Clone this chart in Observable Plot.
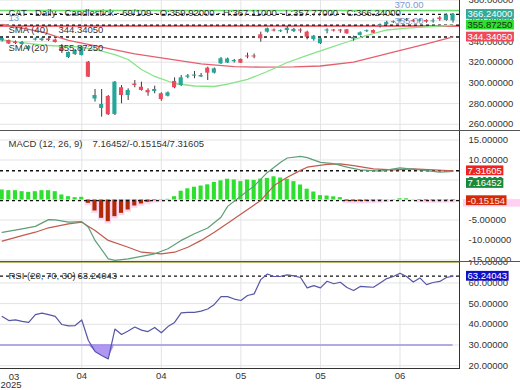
<!DOCTYPE html>
<html><head><meta charset="utf-8">
<script src="https://cdn.jsdelivr.net/npm/d3@7"></script>
<script src="https://cdn.jsdelivr.net/npm/@observablehq/plot@0.6"></script>
<style>
html,body{margin:0;padding:0;background:#fff;}
#chart{position:relative;width:520px;height:390px;overflow:hidden;background:#fff;}
.panel{position:absolute;left:0;width:520px;overflow:hidden;}
.panel svg{display:block;}
</style></head><body>
<div id="chart"></div>
<script>
// ---------- data ----------
const symbol = "CAT", period = "Daily", chartType = "Candlestick", totalBars = 109;
const opens  = [340.5,341.0,339.5,337.1,332.7,341.4,341.0,342.4,341.4,334.2,324.5,327.4,326.5,320.0,284.4,275.3,286.9,269.5,295.3,287.8,298.9,295.8,292.7,291.7,289.5,287.1,301.4,297.5,305.5,306.5,305.7,314.2,309.4,318.4,319.2,320.4,322.6,326.0,326.0,346.5,349.0,351.1,349.5,350.6,349.6,351.1,349.0,341.9,337.8,350.1,351.1,351.1,351.3,342.4,345.8,349.5,350.6,354.5,356.4,358.2,359.8,360.3,360.1,359.8,360.3,359.0,362.7,360.3,359.92];
const highs  = [343.9,341.4,340.5,340.0,336.1,343.4,343.4,343.4,342.4,337.1,329.8,332.3,335.2,320.7,293.6,293.6,287.8,301.4,297.5,294.3,302.3,300.7,294.3,296.8,290.4,291.2,304.9,307.1,308.1,311.0,309.1,315.2,314.4,324.5,324.0,322.6,323.1,328.7,327.9,349.0,353.0,352.1,351.1,354.5,352.6,352.3,350.0,345.8,343.4,352.3,351.6,351.6,351.6,345.1,349.2,351.1,351.1,356.9,359.6,359.8,361.7,362.2,361.3,361.7,361.0,361.9,364.1,366.6,367.11];
const lows   = [339.5,337.1,337.1,336.1,331.3,340.5,340.0,340.0,338.5,328.4,323.6,326.5,326.0,305.2,281.4,266.9,268.5,268.5,279.8,283.0,295.3,292.0,287.1,289.5,282.3,286.4,294.3,296.5,304.0,304.0,305.2,302.3,308.6,317.8,318.7,319.2,318.7,323.3,323.3,339.3,348.2,349.2,348.7,347.4,348.7,348.0,341.6,340.3,337.1,347.4,349.2,348.0,347.0,340.3,345.3,348.7,347.7,353.0,355.4,357.4,358.8,359.3,358.4,358.8,357.7,357.7,359.6,359.6,357.77];
const closes = [342.9,337.6,338.1,339.0,335.2,342.4,342.4,341.0,339.0,330.3,329.4,331.3,334.5,305.5,287.8,279.1,269.2,300.7,287.8,292.7,297.5,292.7,290.4,293.6,283.9,290.4,295.3,304.9,306.7,307.6,307.1,309.4,313.6,323.3,323.1,321.6,319.0,325.0,325.0,342.6,352.3,350.1,350.4,352.8,351.6,350.1,344.1,345.1,342.6,351.1,350.1,350.1,347.4,343.9,348.4,350.4,348.0,355.9,358.4,359.1,360.8,361.3,359.1,360.8,358.8,359.8,361.3,365.6,366.24];

const sma20Idx = [0,3,7,12,15,17,19,21,23,26,29,32,34,37,40,43,46,49,52,55,58,61,65,68];
const sma20Val = [341.6,339.0,336.1,334.5,330.8,327.4,322.6,312.9,306.2,299.4,297.0,296.5,298.9,303.3,311.0,319.7,326.5,333.2,339.5,345.8,351.1,353.0,354.5,355.8725];
const sma40Idx = [0,3,6,10,15,20,25,30,35,39,44,48,53,59,64,68];
const sma40Val = [356.4,353.0,349.2,341.0,334.5,328.1,323.3,318.4,315.8,315.2,315.4,316.3,320.0,329.7,337.8,344.3405];

const priceLines = [{v:370, color:"#66dd66"}, {v:355, color:"#e8384a"}];

const macdHist = [2.5,2.33,2.33,2.08,1.92,2.08,2.33,2.33,2.08,1.25,0.83,0.58,0.67,-0.83,-2.75,-4.58,-5.42,-4.17,-3.33,-2.5,-1.5,-1.0,-0.58,-0.17,-0.05,0.17,0.83,2.2,2.8,3.2,3.5,3.8,4.4,4.8,5.2,5.0,4.6,5.0,4.9,5.2,5.4,5.8,5.5,5.2,4.6,3.75,2.7,2.0,1.1,1.0,0.8,0.6,-0.3,-0.4,-0.4,-0.35,-0.3,-0.2,-0.05,0.1,0.3,0.3,0.05,-0.1,-0.2,-0.25,-0.2,-0.2,-0.15154];
const macdIdx = [0,3,5,7,8,10,12,13,14,16,17,19,21,23,25,27,29,31,33,34,36,38,39,40,42,43,45,46,48,50,52,54,57,60,63,66,68];
const macdVal = [-8.1,-7.2,-6.6,-4.9,-4.95,-5.55,-5.4,-6.8,-10.1,-14.7,-15.1,-14.7,-14.1,-13.45,-12.2,-10.1,-8.45,-7.0,-4.3,-1.6,1.0,3.5,5.2,6.9,9.45,10.5,10.9,10.6,9.4,9.1,8.2,7.55,7.2,8.05,7.55,6.95,7.16452];
const sigIdx = [0,3,5,7,10,12,14,16,19,21,24,26,28,30,32,34,39,41,43,45,46,49,51,53,56,59,62,65,68];
const sigVal = [-10.3,-8.9,-8.05,-6.95,-5.95,-5.55,-7.6,-10.1,-11.8,-13.05,-13.45,-13.05,-11.8,-10.1,-8.05,-5.8,-0.1,3.6,5.7,7.4,8.2,8.9,9.05,8.6,7.8,7.55,7.8,7.55,7.31605];

const rsiVal = [43.8,41.8,42.1,41.4,40.9,44.7,45.4,44.7,43.8,39.9,39.2,39.4,42.1,32.2,26.9,24.9,23.3,37.7,35.1,36.8,38.7,37.2,36.5,38.5,35.9,38.9,40.9,45.5,45.8,45.8,46.4,47.4,49.6,53.4,53.4,52.2,51.5,53.9,54.7,61.6,64.3,63.1,63.2,63.9,63.4,62.6,57.6,58.7,57.6,60.8,59.6,60.3,57.8,56.3,58.3,58.1,57.9,60.0,62.1,63.1,64.7,63.1,60.4,62.4,59.2,60.2,60.7,62.6,63.24043];
const rsiLevels = [30, 70];

const priceTicks = [260,280,300,320,340,360,380];
const macdTicks  = [-15,-10,-5,0,5,10,15,20];
const rsiTicks   = [20,30,40,50,60,70];
const monthIdx = [12,24,36,48,60];
const monthLbl = ["04","04","05","05","06"];
const firstMonth = {idx:0, label:"03", year:"2025"};

// ---------- styling ----------
const FONT = '"Liberation Sans", Arial, Helvetica, sans-serif';
const FS = 9.5;
const TEAL = "#26a69a", RED = "#ea4a5c";
const GRID = "#e3e3e6";
const X_DOMAIN = [-1.7/6.63, (459-1.7)/6.63];
const last = a => a[a.length-1];

const chart = document.getElementById("chart");
function mount(plot, top, height){
  const d = document.createElement("div");
  d.className = "panel"; d.style.top = top+"px"; d.style.height = height+"px";
  d.appendChild(plot); chart.appendChild(d);
  return plot;
}
function base(height, yDomain, marks, mb=0){
  return Plot.plot({
    width:520, height, marginLeft:0, marginRight:61, marginTop:0, marginBottom:mb,
    x:{domain:X_DOMAIN, axis:null},
    y:{domain:yDomain, axis:null},
    style:{fontFamily:FONT, fontSize:FS+"px", color:"#333", background:"transparent"},
    marks
  });
}
function addBoxes(svg, y, boxes){
  const s = d3.select(svg);
  for (const b of boxes){
    const cy = y.apply(b.v) + (b.shift||0);
    const g = s.append("g");
    const t = g.append("text").attr("x",467.5).attr("y",cy).attr("dy","0.36em")
      .attr("text-anchor","start").attr("fill",b.fg).style("font",`${FS}px ${FONT}`).text(b.text);
    const w = t.node().getComputedTextLength();
    if (b.glow) g.insert("rect","text").attr("x",463).attr("y",cy-1).attr("width",57).attr("height",7.5).attr("fill",b.glow);
    g.insert("rect","text").attr("x",466).attr("y",cy-4.8).attr("width",w+3).attr("height",9.8).attr("fill",b.bg);
  }
}
function frameLines(svg, h, sep, bottom){
  const s = d3.select(svg);
  s.append("line").attr("x1",459.5).attr("x2",459.5).attr("y1",0).attr("y2",h).attr("stroke","#333");
  if (sep) s.append("line").attr("x1",0).attr("x2",520).attr("y1",0.5).attr("y2",0.5).attr("stroke","#555");
  if (bottom) s.append("line").attr("x1",0).attr("x2",460).attr("y1",h+0.5).attr("y2",h+0.5).attr("stroke","#333");
}
const dashed = v => Plot.ruleY([v], {stroke:"#111", strokeWidth:1.3, strokeDasharray:"3,3"});

// ---------- panel 1: price ----------
const candles = opens.map((o,i)=>({i, o, h:highs[i], l:lows[i], c:closes[i]}));
const up = candles.filter(d=>d.c>=d.o), down = candles.filter(d=>d.c<d.o);
const s20 = sma20Idx.map((x,k)=>({x, y:sma20Val[k]}));
const s40 = sma40Idx.map((x,k)=>({x, y:sma40Val[k]}));
const lc = last(candles);
const title = `${symbol} - ${period} - ${chartType} - ${candles.length}/${totalBars} - O:${lc.o.toFixed(5)} - H:${lc.h.toFixed(5)} - L:${lc.l.toFixed(5)} - C:${lc.c.toFixed(5)}`;

const p1 = mount(base(130, [254.0, 379.6], [
  Plot.gridY(priceTicks, {stroke:GRID, strokeOpacity:1}),
  Plot.gridX(monthIdx, {stroke:GRID, strokeOpacity:1}),
  Plot.ruleY(priceLines, {y:"v", stroke:"color", strokeWidth:1.6}),
  Plot.text(priceLines, {y:"v", frameAnchor:"right", dx:-36, dy:-5.5, textAnchor:"end", text:d=>d.v.toFixed(2), fill:"#7b98d6"}),
  dashed(lc.c), dashed(last(sma20Val)), dashed(last(sma40Val)),
  Plot.line(s40, {x:"x", y:"y", stroke:"#e4606e", strokeWidth:1.3}),
  Plot.line(s20, {x:"x", y:"y", stroke:"#86e486", strokeWidth:1.3}),
  Plot.ruleX(candles, {x:"i", y1:"l", y2:"h", stroke:"#3c3c3c", strokeWidth:1}),
  Plot.rect(up, {x1:d=>d.i-0.31, x2:d=>d.i+0.31, y1:"o", y2:"c", fill:TEAL}),
  Plot.rect(down, {x1:d=>d.i-0.31, x2:d=>d.i+0.31, y1:"o", y2:"c", fill:RED}),
  Plot.text([title], {text:d=>d, frameAnchor:"top-left", dx:8, dy:12, textAnchor:"start", lineAnchor:"middle", fill:"#333"}),
  Plot.text(["13"], {text:d=>d, frameAnchor:"top-left", dx:8, dy:17, textAnchor:"start", lineAnchor:"middle", fill:"#7b98d6"}),
  Plot.text(["SMA (40)"], {text:d=>d, frameAnchor:"top-left", dx:8, dy:29, textAnchor:"start", lineAnchor:"middle", fill:"#333"}),
  Plot.text([last(sma40Val).toFixed(5)], {text:d=>d, frameAnchor:"top-left", dx:58, dy:29, textAnchor:"start", lineAnchor:"middle", fill:"#333"}),
  Plot.text(["SMA (20)"], {text:d=>d, frameAnchor:"top-left", dx:8, dy:47, textAnchor:"start", lineAnchor:"middle", fill:"#333"}),
  Plot.text([last(sma20Val).toFixed(5)], {text:d=>d, frameAnchor:"top-left", dx:58, dy:47, textAnchor:"start", lineAnchor:"middle", fill:"#333"}),
  Plot.axisY(priceTicks, {anchor:"right", tickSize:0, tickPadding:9, tickFormat:d=>d.toFixed(5), label:null, fill:"#333"})
]), 0, 130);
frameLines(p1, 130, false, false);
addBoxes(p1, p1.scale("y"), [
  {v:lc.c, text:lc.c.toFixed(5), bg:"#36a898", fg:"#f2fffb"},
  {v:last(sma20Val), text:last(sma20Val).toFixed(5), bg:"#2ee02e", fg:"#173017"},
  {v:last(sma40Val), text:last(sma40Val).toFixed(5), bg:"#f04a5a", fg:"#fff"}
]);

// ---------- panel 2: MACD ----------
const hist = macdHist.map((v,i)=>({i, v}));
const neg = hist.filter(d=>d.v<0), pos = hist.filter(d=>d.v>=0);
const mLine = macdIdx.map((x,k)=>({x, y:macdVal[k]}));
const sLine = sigIdx.map((x,k)=>({x, y:sigVal[k]}));
const mTxt = `${last(macdVal).toFixed(5)}/${last(macdHist).toFixed(5)}/${last(sigVal).toFixed(5)}`;

const p2 = mount(base(131, [-15.375, 17.375], [
  Plot.gridY(macdTicks, {stroke:GRID, strokeOpacity:1}),
  Plot.gridX(monthIdx, {stroke:GRID, strokeOpacity:1}),
  Plot.rect(neg, {x1:d=>d.i-0.5, x2:d=>d.i+0.5, y1:0, y2:d=>d.v-0.6, fill:"#ffd6f2"}),
  Plot.rect(pos, {x1:d=>d.i-0.31, x2:d=>d.i+0.31, y1:0, y2:"v", fill:"#2ee02e"}),
  Plot.rect(neg, {x1:d=>d.i-0.31, x2:d=>d.i+0.31, y1:0, y2:"v", fill:"#b02a06"}),
  dashed(last(sigVal)), dashed(last(macdHist)),
  Plot.line(sLine, {x:"x", y:"y", stroke:"#c25a4e", strokeWidth:1.2}),
  Plot.line(mLine, {x:"x", y:"y", stroke:"#5e9e78", strokeWidth:1.2}),
  Plot.text(["MACD (12, 26, 9)"], {text:d=>d, frameAnchor:"top-left", dx:8, dy:13, textAnchor:"start", lineAnchor:"middle", fill:"#333"}),
  Plot.text([mTxt], {text:d=>d, frameAnchor:"top-left", dx:92, dy:13, textAnchor:"start", lineAnchor:"middle", fill:"#333"}),
  Plot.axisY(macdTicks, {anchor:"right", tickSize:0, tickPadding:9, tickFormat:d=>d.toFixed(5), label:null, fill:"#333"})
]), 130, 131);
frameLines(p2, 131, true, false);
addBoxes(p2, p2.scale("y"), [
  {v:last(sigVal), text:last(sigVal).toFixed(5), bg:"#ee2222", fg:"#fff"},
  {v:last(macdVal), shift:12, text:last(macdVal).toFixed(5), bg:"#17893c", fg:"#fff"},
  {v:last(macdHist), text:last(macdHist).toFixed(5), bg:"#d32a0c", fg:"#ffe2d2", glow:"#ffd0f0"}
]);

// ---------- panel 3: RSI ----------
const rsi = rsiVal.map((r,i)=>({i, r}));
const p3 = mount(base(129, [18.65, 70.34], [
  Plot.gridY(rsiTicks, {stroke:GRID, strokeOpacity:1}),
  Plot.gridX(monthIdx, {stroke:GRID, strokeOpacity:1}),
  Plot.ruleY([rsiLevels[1]], {stroke:"#b9b86e", strokeWidth:1.5}),
  Plot.ruleY([rsiLevels[0]], {x1:X_DOMAIN[0], x2:rsi.length-1, stroke:"#b6a8e4", strokeWidth:2}),
  Plot.areaY(rsi, {x:"i", y1:rsiLevels[0], y2:d=>Math.min(d.r, rsiLevels[0]), fill:"#a68cf2", fillOpacity:0.9}),
  dashed(last(rsiVal)),
  Plot.line(rsi, {x:"i", y:"r", stroke:"#5656a6", strokeWidth:1.2}),
  Plot.text(["RSI (20, 70, 30)"], {text:d=>d, frameAnchor:"top-left", dx:8, dy:14.5, textAnchor:"start", lineAnchor:"middle", fill:"#333"}),
  Plot.text([last(rsiVal).toFixed(5)], {text:d=>d, frameAnchor:"top-left", dx:77, dy:14.5, textAnchor:"start", lineAnchor:"middle", fill:"#333"}),
  Plot.axisY(rsiTicks, {anchor:"right", tickSize:0, tickPadding:9, tickFormat:d=>d.toFixed(5), label:null, fill:"#333"}),
  Plot.axisX(monthIdx, {anchor:"bottom", tickSize:0, tickPadding:4, tickFormat:d=>monthLbl[monthIdx.indexOf(d)], label:null, fill:"#333"}),
  Plot.text([firstMonth], {x:"idx", text:"label", frameAnchor:"bottom", dx:6.6, dy:8.5, textAnchor:"start", lineAnchor:"middle", fill:"#333"}),
  Plot.text([firstMonth], {x:"idx", text:"year", frameAnchor:"bottom", dx:-1.7, dy:16.5, textAnchor:"start", lineAnchor:"middle", fill:"#333"})
], 22), 261, 129);
frameLines(p3, 107, true, true);
addBoxes(p3, p3.scale("y"), [
  {v:last(rsiVal), text:last(rsiVal).toFixed(5), bg:"#1010c8", fg:"#fff"}
]);
</script>
</body></html>
